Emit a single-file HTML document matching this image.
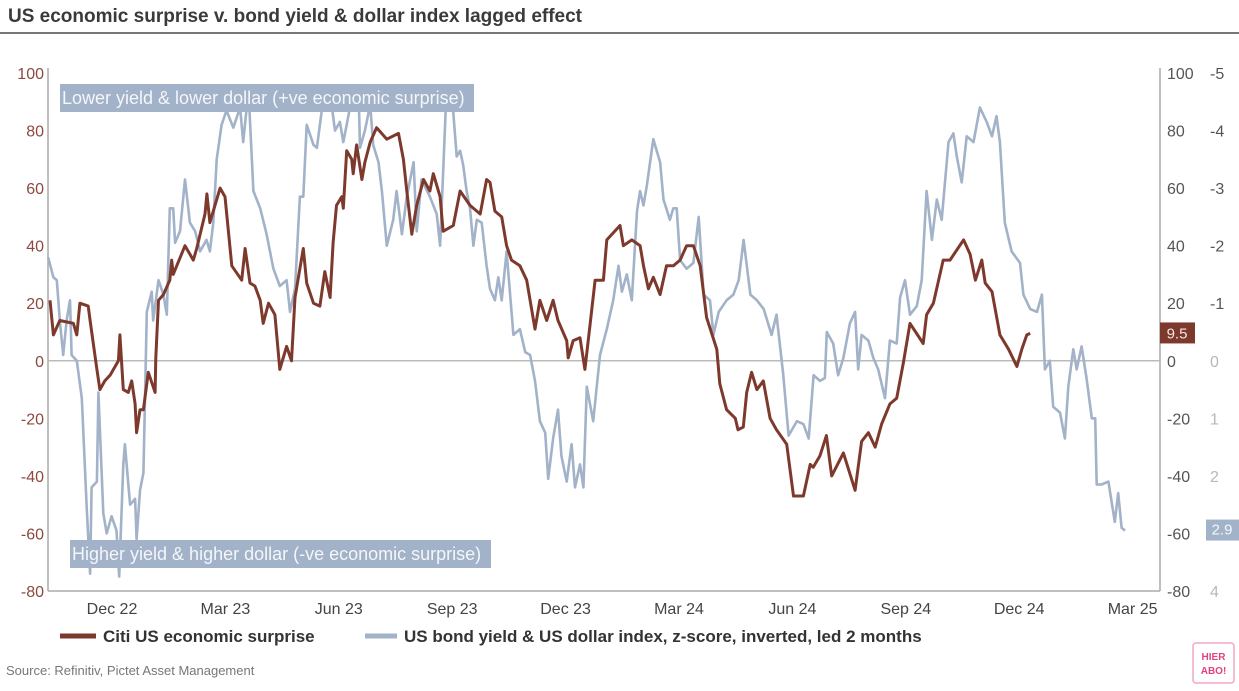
<!DOCTYPE html>
<html><head><meta charset="utf-8">
<style>
body{margin:0;background:#fff;width:1239px;height:686px;overflow:hidden;font-family:"Liberation Sans",sans-serif;}
</style></head>
<body>
<svg id="chart" width="1239" height="686" viewBox="0 0 1239 686" xmlns="http://www.w3.org/2000/svg" font-family="Liberation Sans, sans-serif">
<text x="8" y="22" font-size="19" font-weight="bold" fill="#3a3a3a">US economic surprise v. bond yield &amp; dollar index lagged effect</text>
<line x1="0" y1="33" x2="1239" y2="33" stroke="#777" stroke-width="2"/>
<g id="axes"></g>
<g id="series"></g>
<g id="annot"></g>
<g>
<line x1="60" y1="636" x2="96" y2="636" stroke="#7e392d" stroke-width="5"/>
<text x="103" y="642" font-size="17" font-weight="bold" fill="#333">Citi US economic surprise</text>
<line x1="365" y1="636" x2="397" y2="636" stroke="#a2b2c8" stroke-width="5"/>
<text x="404" y="642" font-size="17" font-weight="bold" fill="#333">US bond yield &amp; US dollar index, z-score, inverted, led 2 months</text>
</g>
<text x="6" y="675" font-size="13" fill="#777">Source: Refinitiv, Pictet Asset Management</text>
<g>
<rect x="1193" y="643" width="41" height="40" rx="3" fill="#fff" stroke="#f3a6c8" stroke-width="1.5"/>
<text x="1213.5" y="660" font-size="10" font-weight="bold" fill="#e0447f" text-anchor="middle">HIER</text>
<text x="1213.5" y="674" font-size="10" font-weight="bold" fill="#e0447f" text-anchor="middle">ABO!</text>
</g>
</svg>
<script>
// months since Dec 2022 (0 = Dec 22 tick)
const citiMonths=[-1.64,-1.55,-1.38,-1.02,-0.93,-0.85,-0.63,-0.58,-0.40,-0.32,-0.19,-0.05,0.17,0.21,0.30,0.43,0.52,0.61,0.65,0.74,0.83,0.96,1.14,1.16,1.23,1.36,1.53,1.58,1.62,1.93,2.15,2.24,2.46,2.51,2.59,2.86,2.99,3.17,3.43,3.52,3.65,3.78,3.92,4.00,4.14,4.31,4.44,4.62,4.75,4.84,5.06,5.15,5.33,5.50,5.63,5.77,5.85,5.94,6.08,6.12,6.21,6.34,6.38,6.47,6.61,6.69,6.83,7.00,7.27,7.58,7.71,7.80,7.93,8.06,8.24,8.41,8.50,8.68,8.76,9.03,9.21,9.47,9.74,9.91,10.0,10.13,10.31,10.44,10.57,10.79,10.97,11.19,11.32,11.50,11.67,11.80,12.03,12.07,12.20,12.38,12.51,12.65,12.78,13.00,13.09,13.44,13.53,13.75,13.97,14.06,14.19,14.32,14.50,14.67,14.85,15.03,15.20,15.38,15.56,15.73,16.00,16.08,16.26,16.49,16.56,16.70,16.79,16.92,17.06,17.23,17.41,17.58,17.85,18.03,18.29,18.47,18.55,18.73,18.90,19.04,19.35,19.66,19.83,20.01,20.19,20.36,20.58,20.76,20.93,21.11,21.46,21.55,21.73,21.99,22.17,22.53,22.70,22.84,23.01,23.10,23.28,23.49,23.72,23.94,24.07,24.20,24.29];
const citiValues=[21,9,14,13,9,20,19,14,-3,-10,-7,-5,0,9,-10,-11,-7,-15,-25,-17,-17,-4,-11,1,21,23,28,35,30,40,35,39,51,58,48,60,57,33,28,39,27,26,21,13,20,16,-3,5,0,22,39,27,20,19,31,22,41,54,57,53,73,70,65,75,63,69,76,81,77,79,70,59,44,54,63,59,65,57,45,47,59,54,51,63,62,52,50,40,35,33,28,11,21,14,21,14,7,1,7,8,-3,13,28,28,42,47,40,42,40,33,25,29,23,33,33,35,40,40,33,15,4,-8,-17,-20,-24,-23,-11,-4,-10,-7,-20,-24,-29,-47,-47,-36,-37,-33,-26,-40,-32,-45,-28,-25,-30,-22,-15,-13,-1,13,6,16,20,35,35,42,37,28,35,27,24,9,4,-2,4,9,9.5];
const bondMonths=[-1.69,-1.55,-1.46,-1.38,-1.29,-1.20,-1.11,-1.07,-0.93,-0.80,-0.67,-0.58,-0.54,-0.40,-0.36,-0.23,-0.14,-0.01,0.12,0.19,0.30,0.34,0.48,0.61,0.65,0.74,0.83,0.87,0.92,1.05,1.09,1.23,1.36,1.45,1.53,1.62,1.67,1.80,1.93,2.06,2.20,2.33,2.50,2.59,2.68,2.77,2.90,3.03,3.21,3.39,3.47,3.61,3.74,3.92,4.09,4.27,4.44,4.62,4.71,4.84,4.97,5.06,5.15,5.33,5.42,5.50,5.63,5.77,5.90,6.03,6.12,6.21,6.38,6.52,6.56,6.69,6.83,6.91,7.05,7.14,7.27,7.44,7.53,7.67,7.80,7.98,8.06,8.19,8.41,8.59,8.68,8.85,8.99,9.12,9.21,9.29,9.38,9.47,9.56,9.65,9.78,9.91,10.0,10.13,10.22,10.31,10.44,10.62,10.79,10.93,11.06,11.19,11.32,11.46,11.54,11.67,11.80,11.89,12.03,12.16,12.25,12.38,12.47,12.56,12.73,12.91,13.09,13.26,13.40,13.49,13.62,13.75,13.89,13.97,14.06,14.15,14.32,14.50,14.59,14.76,14.85,14.94,15.03,15.20,15.38,15.52,15.65,15.82,15.91,16.05,16.26,16.44,16.58,16.71,16.89,17.06,17.24,17.45,17.58,17.76,17.90,18.12,18.29,18.43,18.56,18.73,18.86,18.91,19.08,19.21,19.35,19.52,19.66,19.74,19.83,20.01,20.14,20.27,20.45,20.58,20.76,20.85,20.98,21.11,21.29,21.42,21.55,21.69,21.82,21.95,22.13,22.26,22.35,22.48,22.61,22.79,22.96,23.14,23.28,23.40,23.49,23.62,23.80,24.02,24.11,24.29,24.47,24.60,24.68,24.81,24.90,25.08,25.21,25.30,25.43,25.52,25.65,25.78,25.92,26.01,26.05,26.18,26.36,26.53,26.62,26.71,26.80];
const bondZ=[-1.8,-1.45,-1.4,-0.7,-0.1,-0.7,-1.05,-0.1,0,0.65,2.55,3.7,2.2,2.1,0.55,2.65,3.0,2.7,2.95,3.75,1.8,1.45,2.5,2.4,3.1,2.25,1.95,0.75,-0.85,-1.2,-0.7,-1.4,-1.15,-0.8,-2.65,-2.65,-2.05,-2.25,-3.15,-2.4,-2.25,-1.9,-2.1,-1.9,-2.4,-3.5,-4.1,-4.35,-4.05,-4.4,-3.8,-4.7,-2.95,-2.65,-2.2,-1.6,-1.3,-1.4,-0.85,-1.25,-2.85,-2.85,-4.1,-3.75,-3.7,-4.1,-4.75,-4.65,-4.0,-4.15,-3.8,-4.1,-4.7,-4.75,-3.7,-4.0,-4.45,-3.75,-3.45,-2.95,-2.0,-2.45,-2.95,-2.2,-2.85,-3.45,-2.25,-3.15,-2.85,-2.55,-2.0,-4.7,-4.65,-3.55,-3.65,-3.4,-2.95,-2.65,-2.0,-2.45,-2.4,-1.65,-1.25,-1.05,-1.45,-1.05,-1.9,-0.45,-0.55,-0.15,-0.1,0.35,1.05,1.25,2.05,1.35,0.85,1.65,2.1,1.45,2.2,1.8,2.2,0.45,1.05,-0.1,-0.55,-1.05,-1.65,-1.2,-1.5,-1.05,-2.6,-2.95,-2.7,-3.05,-3.85,-3.45,-2.8,-2.45,-2.65,-2.65,-1.75,-1.6,-1.7,-2.5,-1.15,-1.05,-0.45,-0.85,-1.05,-1.15,-1.4,-2.1,-1.15,-1.05,-0.9,-0.45,-0.8,0.25,1.3,1.05,1.1,1.35,0.25,0.35,0.3,-0.5,-0.3,0.25,-0.05,-0.65,-0.85,0.15,-0.45,-0.35,-0.05,0.15,0.65,-0.35,-0.3,-1.1,-1.4,-0.8,-0.95,-1.4,-2.95,-2.1,-2.8,-2.45,-3.8,-3.95,-3.55,-3.1,-3.9,-3.8,-4.4,-4.15,-3.9,-4.25,-3.8,-2.4,-1.9,-1.7,-1.15,-0.9,-0.85,-1.15,0.15,0,0.8,0.9,1.35,0.45,-0.2,0.15,-0.25,0.3,1.0,1.0,2.15,2.15,2.1,2.8,2.3,2.9,2.95];
const xTickLabels=["Dec 22","Mar 23","Jun 23","Sep 23","Dec 23","Mar 24","Jun 24","Sep 24","Dec 24","Mar 25"];
const xTickMonths=[0,3,6,9,12,15,18,21,24,27];
const leftTicks=[100,80,60,40,20,0,-20,-40,-60,-80];
const zTicks=[-5,-4,-3,-2,-1,0,1,2,3,4];
const citiLast="9.5", bondLast="2.9";

const NS="http://www.w3.org/2000/svg";
const PL=48,PR=1160,PT=73,PB=591;
const xS=m=>112+m*37.8;
const yS=v=>PT+(100-v)*(PB-PT)/180;
const zS=z=>PT+(z+5)*(PB-PT)/9;
function mk(tag,attrs,parent,txt){const e=document.createElementNS(NS,tag);for(const k in attrs)e.setAttribute(k,attrs[k]);if(txt!==undefined)e.textContent=txt;parent.appendChild(e);return e;}
const axes=document.getElementById('axes'),ser=document.getElementById('series'),ann=document.getElementById('annot');

let e=mk('line',{x1:PL,y1:PT-5,x2:PL,y2:PB,stroke:'#aaa','stroke-width':1.5},axes);

e=mk('line',{x1:PR,y1:PT-5,x2:PR,y2:PB,stroke:'#aaa','stroke-width':1.5},axes);

e=mk('line',{x1:PL,y1:PB,x2:PR,y2:PB,stroke:'#aaa','stroke-width':1.5},axes);

e=mk('line',{x1:PL,y1:yS(0),x2:PR,y2:yS(0),stroke:'#bbb','stroke-width':1.5},axes);


leftTicks.forEach(v=>{
  let t=mk('text',{x:44,y:yS(v)+6,'font-size':16,fill:'#8a4a3f','text-anchor':'end'},axes,String(v));
  
  let r=mk('text',{x:1167,y:yS(v)+6,'font-size':16,fill:'#555'},axes,String(v));
  
});
zTicks.forEach(z=>{
  let t=mk('text',{x:1210,y:zS(z)+6,'font-size':16,fill:z<0?'#555':'#b8b8b8'},axes,String(z));
  
});
xTickLabels.forEach((l,i)=>{
  let t=mk('text',{x:xS(xTickMonths[i]),y:614,'font-size':16,fill:'#444','text-anchor':'middle'},axes,l);
  
});

let bd=bondMonths.map((m,i)=>(i?'L':'M')+xS(m).toFixed(1)+','+zS(bondZ[i]).toFixed(1)).join('');
e=mk('path',{d:bd,fill:'none',stroke:'#a2b2c8','stroke-width':2.6,'stroke-linejoin':'round'},ser);

let cd=citiMonths.map((m,i)=>(i?'L':'M')+xS(m).toFixed(1)+','+yS(citiValues[i]).toFixed(1)).join('');
e=mk('path',{d:cd,fill:'none',stroke:'#7e392d','stroke-width':3,'stroke-linejoin':'round'},ser);


// annotations
e=mk('rect',{x:60,y:84,width:414,height:28,fill:'#a2b2c8'},ann);

e=mk('text',{x:62,y:104,'font-size':18,fill:'#f4f6fa'},ann,'Lower yield & lower dollar (+ve economic surprise)');

e=mk('rect',{x:70,y:540,width:421,height:28,fill:'#a2b2c8'},ann);

e=mk('text',{x:72,y:560,'font-size':18,fill:'#f4f6fa'},ann,'Higher yield & higher dollar (-ve economic surprise)');

// last value badges
const cy=yS(citiValues[citiValues.length-1]);
e=mk('rect',{x:1160,y:cy-11,width:35,height:21,fill:'#7e392d'},ann);

e=mk('text',{x:1177,y:cy+5,'font-size':15,fill:'#f2e6e3','text-anchor':'middle'},ann,citiLast);

const by=zS(bondZ[bondZ.length-1]);
e=mk('rect',{x:1206,y:by-11,width:33,height:21,fill:'#a2b2c8'},ann);

e=mk('text',{x:1222,y:by+4,'font-size':15,fill:'#f4f6fa','text-anchor':'middle'},ann,bondLast);

</script>
</body></html>
